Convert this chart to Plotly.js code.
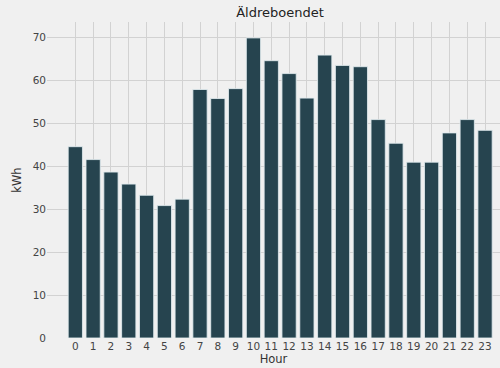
<!DOCTYPE html>
<html>
<head>
<meta charset="utf-8">
<script src="https://cdn.plot.ly/plotly-3.0.1.min.js"></script>
<style>html,body{margin:0;padding:0;background:#f0f0f0;}#chart{width:500px;height:368px;}</style>
</head>
<body>
<div id="chart"></div>
<script>
const hours = [0,1,2,3,4,5,6,7,8,9,10,11,12,13,14,15,16,17,18,19,20,21,22,23];
const kwh = [44.5,41.5,38.6,35.8,33.2,30.8,32.3,57.8,55.7,58.0,69.8,64.5,61.5,55.8,65.8,63.4,63.1,50.8,45.3,40.9,40.9,47.7,50.8,48.3];
const titleText = "Äldreboendet";
const xLabel = "Hour";
const yLabel = "kWh";
const yTicks = [0,10,20,30,40,50,60,70];

const trace = {
  type: 'bar',
  x: hours,
  y: kwh,
  width: 0.8,
  marker: {color: '#26444f', line: {color: 'rgba(225,235,238,0.85)', width: 1}},
  hoverinfo: 'none'
};
const layout = {
  width: 500, height: 368,
  paper_bgcolor: '#f0f0f0', plot_bgcolor: '#f0f0f0',
  margin: {l: 47, r: 0, t: 22, b: 30},
  font: {family: 'DejaVu Sans', color: '#333', size: 11},
  showlegend: false,
  title: {text: titleText, font: {size: 13, color: '#222'}, xref: 'container', x: 0.56, xanchor: 'center', yref: 'container', y: 0.967, yanchor: 'middle'},
  xaxis: {
    range: [-1.59, 23.84], tickmode: 'array', tickvals: hours, ticktext: hours.map(String),
    showgrid: true, gridcolor: '#d2d2d2', gridwidth: 1, zeroline: false, showline: false,
    ticks: '', tickfont: {size: 10.5, color: '#444'},
    title: {text: xLabel, font: {size: 11.5, color: '#333'}, standoff: 4}
  },
  yaxis: {
    range: [0, 73.5], tickmode: 'array', tickvals: yTicks,
    showgrid: true, gridcolor: '#d2d2d2', gridwidth: 1, zeroline: false, showline: false,
    ticks: '', tickfont: {size: 10.5, color: '#444'},
    title: {text: yLabel, font: {size: 11.5, color: '#333'}, standoff: 8}
  },
  bargap: 0.2
};
Plotly.newPlot('chart', [trace], layout, {staticPlot: true, displayModeBar: false});
</script>
</body>
</html>
